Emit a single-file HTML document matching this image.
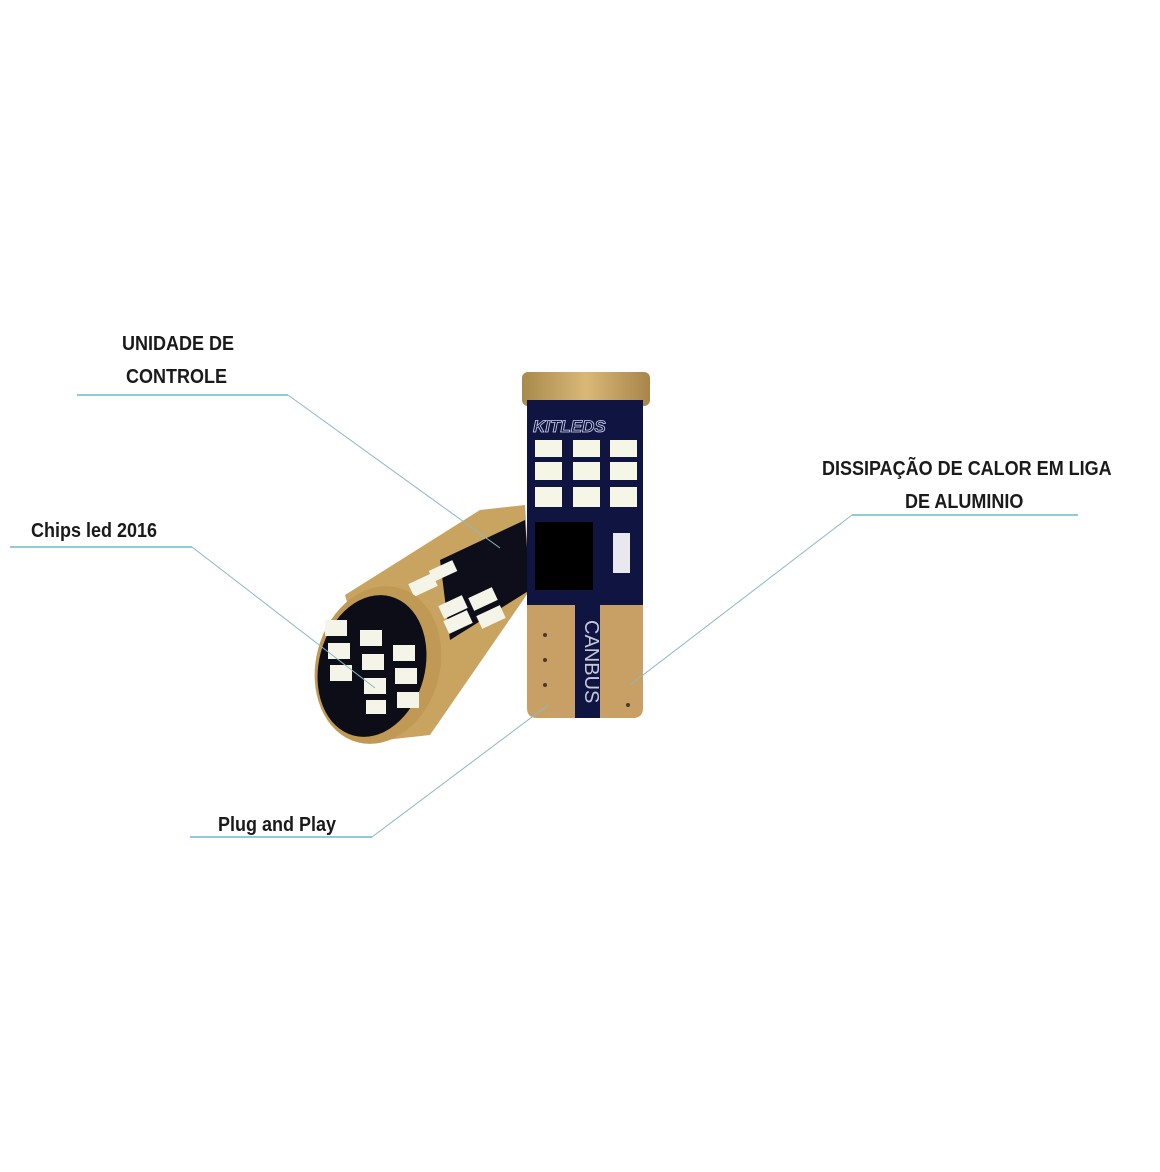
<!DOCTYPE html>
<html><head><meta charset="utf-8"><style>
html,body{margin:0;padding:0;background:#fff;}
body{width:1160px;height:1172px;position:relative;overflow:hidden;}
.t{position:absolute;font-family:"Liberation Sans",sans-serif;font-weight:bold;font-size:20px;color:#1a1a1a;line-height:33px;transform:scaleX(0.9);transform-origin:0 0;white-space:nowrap;}
</style></head><body>
<svg width="1160" height="1172" style="position:absolute;left:0;top:0">
<defs>
<linearGradient id="g" x1="0" x2="1"><stop offset="0" stop-color="#a88a4a"/><stop offset="0.5" stop-color="#d9b878"/><stop offset="1" stop-color="#a8854a"/></linearGradient>
</defs>
<polygon points="345,595 480,510 525,505 530,590 430,735 385,740" fill="#c9a461"/>
<polygon points="440,560 525,520 530,590 450,640" fill="#0e0e1a"/>
<g fill="#f4f4e8">
<rect x="410" y="578" width="26" height="14" transform="rotate(-25 423 585)"/>
<rect x="440" y="600" width="26" height="14" transform="rotate(-25 453 607)"/>
<rect x="470" y="592" width="26" height="14" transform="rotate(-25 483 599)"/>
<rect x="445" y="615" width="26" height="14" transform="rotate(-25 458 622)"/>
<rect x="478" y="610" width="26" height="14" transform="rotate(-25 491 617)"/>
<rect x="430" y="565" width="26" height="12" transform="rotate(-25 443 571)"/>
</g>
<ellipse cx="378" cy="665" rx="62" ry="80" fill="#c09a55" transform="rotate(15 378 665)"/>
<ellipse cx="372" cy="666" rx="53" ry="72" fill="#0d0d18" transform="rotate(15 372 666)"/>
<g fill="#f4f4e8">
<rect x="325" y="620" width="22" height="16"/><rect x="328" y="643" width="22" height="16"/><rect x="330" y="665" width="22" height="16"/>
<rect x="360" y="630" width="22" height="16"/><rect x="362" y="654" width="22" height="16"/><rect x="364" y="678" width="22" height="16"/><rect x="366" y="700" width="20" height="14"/>
<rect x="393" y="645" width="22" height="16"/><rect x="395" y="668" width="22" height="16"/><rect x="397" y="692" width="22" height="16"/>
</g>
<rect x="522" y="372" width="128" height="34" rx="6" fill="url(#g)"/>
<rect x="527" y="400" width="116" height="210" fill="#0f1440"/>
<path d="M527 605 H643 V708 Q643 718 633 718 H537 Q527 718 527 708 Z" fill="#c8a066"/>
<rect x="575" y="605" width="25" height="113" fill="#0f1440"/>
<text x="585" y="620" font-family="Liberation Sans,sans-serif" font-size="20" fill="#c8c8d8" transform="rotate(90 585 620)">CANBUS</text>
<text x="533" y="432" font-family="Liberation Sans,sans-serif" font-size="17" font-style="italic" font-weight="bold" fill="none" stroke="#d0d4f0" stroke-width="0.8">KITLEDS</text>
<g fill="#f6f6e6">
<rect x="535" y="440" width="27" height="17"/><rect x="573" y="440" width="27" height="17"/><rect x="610" y="440" width="27" height="17"/>
<rect x="535" y="462" width="27" height="18"/><rect x="573" y="462" width="27" height="18"/><rect x="610" y="462" width="27" height="18"/>
<rect x="535" y="487" width="27" height="20"/><rect x="573" y="487" width="27" height="20"/><rect x="610" y="487" width="27" height="20"/>
</g>
<rect x="535" y="522" width="58" height="68" fill="#000"/>
<rect x="613" y="533" width="17" height="40" fill="#e8e8ee"/>
<g fill="#4a3a2a"><circle cx="545" cy="635" r="2"/><circle cx="545" cy="660" r="2"/><circle cx="545" cy="685" r="2"/><circle cx="628" cy="705" r="2"/></g>
<g stroke="#8fcbd8" stroke-width="2" fill="none">
<polyline points="77,395 288,395"/><polyline points="10,547 192,547"/>
<polyline points="852,515 1078,515"/><polyline points="190,837 372,837"/>
</g>
<g stroke="#8ab8c4" stroke-width="1" fill="none">
<polyline points="288,395 500,548"/><polyline points="192,547 375,688"/>
<polyline points="852,515 630,685"/><polyline points="372,837 548,705"/>
</g>
</svg>
<div class="t" style="left:122px;top:328px;">UNIDADE DE</div>
<div class="t" style="left:126px;top:361px;">CONTROLE</div>
<div class="t" style="left:31px;top:515px;">Chips led 2016</div>
<div class="t" style="left:822px;top:453px;">DISSIPAÇÃO DE CALOR EM LIGA</div>
<div class="t" style="left:905px;top:486px;">DE ALUMINIO</div>
<div class="t" style="left:218px;top:809px;">Plug and Play</div>
</body></html>
